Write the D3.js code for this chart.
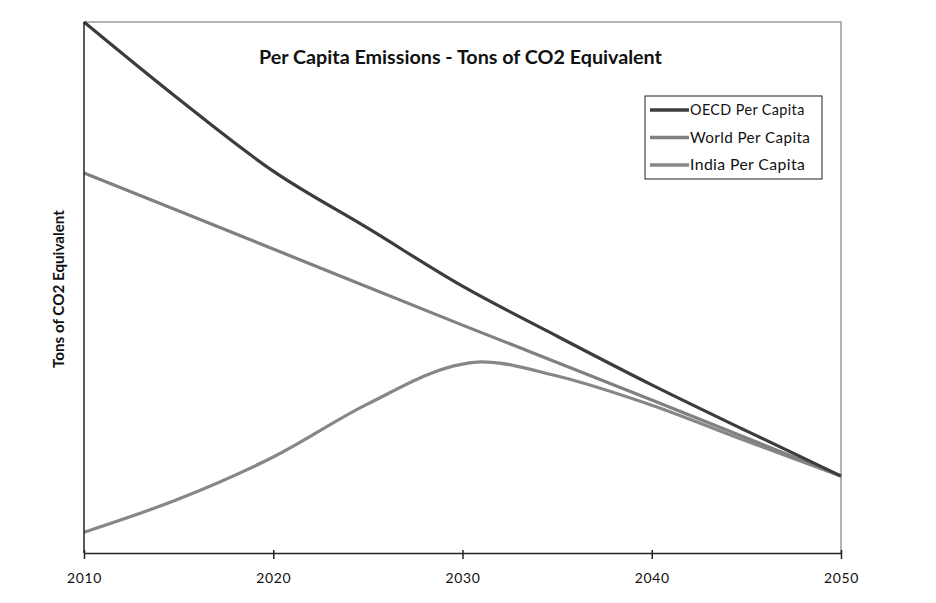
<!DOCTYPE html>
<html><head><meta charset="utf-8">
<script src="https://cdn.jsdelivr.net/npm/d3@7/dist/d3.min.js"></script>
<style>body{margin:0;background:#fff}</style>
</head><body>
<svg id="c" width="936" height="603"></svg>
<script>
const years = [2010, 2015, 2020, 2025, 2030, 2035, 2040, 2045, 2050];
const oecd  = [12.0, 10.26, 8.63, 7.34, 6.03, 4.90, 3.80, 2.76, 1.74];
const worldYears = [2010, 2020, 2030, 2040, 2050];
const world = [8.59, 6.87, 5.15, 3.46, 1.74];
const indiaYears = [2010, 2015, 2020, 2025, 2030, 2031, 2035, 2040, 2045, 2050];
const india = [0.47, 1.22, 2.17, 3.37, 4.27, 4.32, 4.0, 3.34, 2.53, 1.74];
const xTicks = [2010, 2020, 2030, 2040, 2050];
const seriesNames = ["OECD Per Capita", "World Per Capita", "India Per Capita"];
const colors = ["#3c3c3c", "#808080", "#878787"];

const FONT = "Lato, 'Open Sans', sans-serif";
const svg = d3.select("#c");
const L = 84, R = 841, T = 22, B = 553;
const x = d3.scaleLinear().domain([2010, 2050]).range([L, R]);
const y = d3.scaleLinear().domain([0, 12]).range([B, T]);

function fitWidth(sel, target, base) {
  sel.attr("font-size", base);
  const w = sel.node().getComputedTextLength();
  sel.attr("font-size", base * target / w);
}

svg.append("path").attr("d", `M${L},${T}H${R}V${B}`).attr("fill","none").attr("stroke","#9a9a9a").attr("stroke-width",1.5);

const series = [
  {name: seriesNames[0], xs: years, vs: oecd, color: colors[0]},
  {name: seriesNames[1], xs: worldYears, vs: world, color: colors[1]},
  {name: seriesNames[2], xs: indiaYears, vs: india, color: colors[2]}
];
const line = d3.line().x(d => x(d[0])).y(d => y(d[1])).curve(d3.curveMonotoneX);
[2,1,0].forEach(i => {
  const s = series[i];
  svg.append("path").datum(s.xs.map((v,k)=>[v, s.vs[k]]))
    .attr("d", line).attr("fill","none").attr("stroke", s.color).attr("stroke-width", 3.2);
});

svg.append("line").attr("x1",L).attr("x2",L).attr("y1",T).attr("y2",B).attr("stroke","#222").attr("stroke-width",1.5);
const xa = d3.axisBottom(x).tickValues(xTicks).tickFormat(d3.format("d")).tickSize(0).tickPadding(20);
const gx = svg.append("g").attr("transform",`translate(0,${B})`).call(xa);
gx.select(".domain").attr("stroke","#222").attr("stroke-width",1.5);
gx.selectAll(".tick line").attr("y1",-3).attr("y2",6).attr("stroke","#222").attr("stroke-width",1.5);
gx.selectAll("text").attr("font-family",FONT).attr("fill","#111").attr("letter-spacing","0.6px")
  .each(function(){ fitWidth(d3.select(this), 35, 13); });

const title = svg.append("text").attr("x", 460.5).attr("y", 64).attr("text-anchor","middle")
  .attr("font-family",FONT).attr("font-weight","bold")
  .attr("fill","#111").text("Per Capita Emissions - Tons of CO2 Equivalent");
fitWidth(title, 403, 16);

const yl = svg.append("text").attr("transform","translate(64,289) rotate(-90)").attr("text-anchor","middle")
  .attr("font-family",FONT).attr("font-weight","bold")
  .attr("fill","#111").text("Tons of CO2 Equivalent");
fitWidth(yl, 158, 13);

const lg = svg.append("g");
lg.append("rect").attr("x",645).attr("y",96).attr("width",177).attr("height",83)
  .attr("fill","#fff").attr("stroke","#222").attr("stroke-width",1);
const legendW = [115, 121, 116];
series.forEach((s,i) => {
  const yy = 110 + i*27.5;
  lg.append("line").attr("x1",650).attr("x2",689).attr("y1",yy).attr("y2",yy).attr("stroke",s.color).attr("stroke-width",3.5);
  const t = lg.append("text").attr("x",690).attr("y",yy+5).attr("font-family",FONT).attr("letter-spacing","0.4px")
    .attr("fill","#111").text(s.name);
  fitWidth(t, legendW[i], 14);
});
</script>
</body></html>
